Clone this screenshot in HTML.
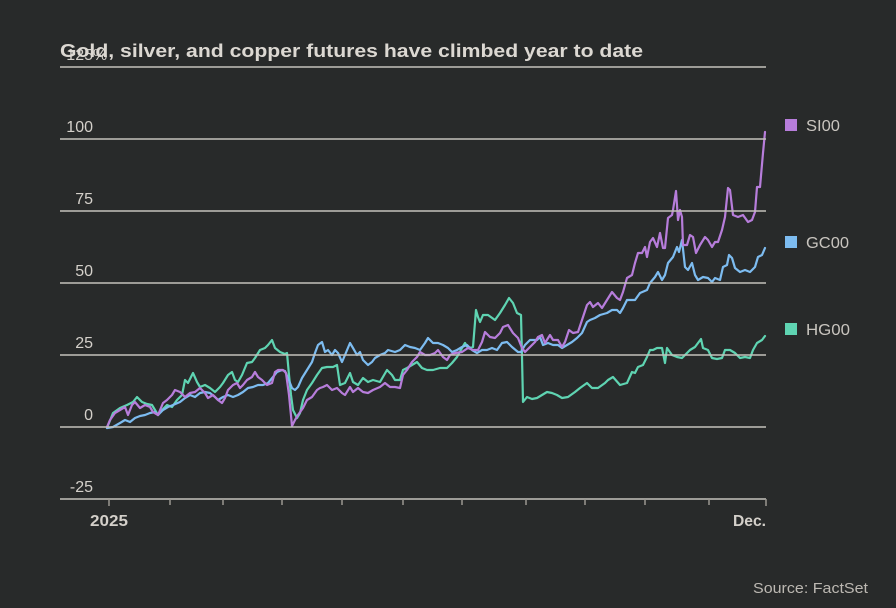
<!DOCTYPE html>
<html>
<head>
<meta charset="utf-8">
<style>
  html,body{margin:0;padding:0;background:#282a2a;}
  svg{display:block;}
  text{font-family:"Liberation Sans",sans-serif;}
</style>
</head>
<body>
<svg width="896" height="608" viewBox="0 0 896 608" xmlns="http://www.w3.org/2000/svg">
  <rect x="0" y="0" width="896" height="608" fill="#282a2a"/>

  <!-- y labels -->
  <g fill="#d4d0ca" font-size="16" text-anchor="end">
    <text x="93" y="60">125</text>
    <text x="93" y="132">100</text>
    <text x="93" y="204">75</text>
    <text x="93" y="276">50</text>
    <text x="93" y="348">25</text>
    <text x="93" y="420">0</text>
    <text x="93" y="492">-25</text>
  </g>
  <text x="93" y="60" fill="#d4d0ca" font-size="16">%</text>

  <!-- title -->
  <text x="60" y="57" fill="#dcd8d2" font-size="18" font-weight="bold" textLength="583" lengthAdjust="spacingAndGlyphs">Gold, silver, and copper futures have climbed year to date</text>

  <!-- series -->
  <g fill="none" stroke-width="2.2" stroke-linejoin="round" stroke-linecap="round">
    <polyline stroke="#5fd4b2" points="107,428 113,413 120,408 127,405 133,402 137,397 142,402 147,404 152,405 155,410 158,415 162,410 167,405 172,407 177,400 182,395 185,380 188,383 193,373 197,382 200,387 205,385 210,388 215,392 220,387 223,383 228,375 232,372 235,380 238,382 242,375 247,363 252,362 255,358 260,350 265,348 268,345 272,340 275,348 280,352 285,354 287,353 289,375 291,395 293,410 297,418 300,413 303,400 307,390 312,383 317,375 322,368 327,367 333,367 337,365 340,385 345,383 350,373 353,382 358,385 363,378 368,382 373,380 380,382 387,370 392,375 395,380 400,380 403,370 407,368 412,365 417,362 422,368 427,370 433,370 440,368 447,368 452,363 457,357 462,348 465,343 468,348 473,347 476,310 478,317 480,322 483,315 488,315 495,320 500,313 505,305 509,298 513,303 517,313 521,315 522,357 523,402 527,397 532,399 537,398 542,395 547,392 552,393 557,395 562,398 568,397 575,392 580,388 587,383 592,388 598,388 605,383 608,380 613,377 620,385 627,383 632,372 635,373 638,367 643,365 647,357 650,350 653,350 657,348 662,348 665,363 667,348 672,355 677,357 682,358 685,355 690,350 695,347 701,339 703,348 708,350 712,358 717,359 722,358 725,350 730,350 735,353 740,358 745,357 750,358 753,350 757,343 762,340 765,336"/>
    <polyline stroke="#7dbcf0" points="107,428 113,427 120,423 125,420 130,422 135,418 140,416 145,415 150,413 155,412 158,415 163,410 168,407 173,405 180,402 185,398 190,395 195,397 200,393 205,392 210,393 215,397 218,400 223,397 228,395 233,397 238,395 243,392 248,388 253,387 258,385 263,385 268,383 273,377 277,372 282,370 285,371 288,378 292,388 295,390 298,387 302,378 307,370 312,362 315,353 318,345 322,342 325,352 328,350 332,355 335,350 338,353 342,362 345,355 350,343 353,348 357,355 360,352 363,360 368,365 372,362 375,358 380,355 385,353 388,350 395,352 400,350 405,345 410,347 415,348 420,350 425,343 428,338 433,343 438,343 443,345 448,348 452,352 457,350 462,347 467,345 472,350 477,353 482,350 487,350 492,348 497,350 502,343 507,342 512,347 518,352 521,352 525,345 530,340 537,340 540,337 543,345 548,343 553,345 558,345 562,348 567,345 572,342 577,338 582,333 587,322 590,320 595,318 600,315 607,313 612,310 617,310 620,313 623,308 627,300 630,300 635,300 640,293 647,290 650,283 655,277 658,272 662,280 665,275 668,263 673,257 677,247 679,252 682,240 685,267 688,270 692,263 695,275 698,280 703,277 708,278 712,282 715,278 720,280 723,267 727,265 729,255 732,258 735,268 740,272 745,270 750,272 755,267 758,257 762,255 765,248"/>
    <polyline stroke="#b77ddb" points="107,427 110,420 115,413 120,410 125,407 128,415 132,405 135,402 140,408 145,405 150,407 153,412 158,415 163,403 167,400 172,395 175,390 180,392 185,397 190,393 195,392 200,388 205,393 208,398 213,395 218,400 222,403 225,398 228,390 233,385 237,383 240,388 243,385 247,380 252,377 255,372 258,377 262,380 267,385 272,383 275,372 278,370 283,370 286,373 289,395 292,426 295,420 298,415 303,408 307,400 312,397 317,390 320,388 323,387 327,385 332,390 337,388 342,393 345,395 350,387 353,392 358,388 363,392 368,393 373,390 380,387 385,383 390,387 395,387 400,388 403,375 407,370 412,362 417,357 420,352 425,355 430,355 435,353 438,350 443,357 447,360 450,355 455,353 462,352 468,348 473,350 478,350 482,342 485,332 490,337 495,338 500,333 503,327 508,325 513,333 518,338 522,348 525,352 530,347 535,342 538,337 542,335 545,343 550,335 553,340 558,340 562,347 565,342 569,330 573,333 578,332 583,317 587,305 590,302 593,307 598,303 602,308 607,300 612,292 617,298 620,300 623,292 627,278 632,275 635,263 638,253 642,253 645,247 647,257 650,242 653,238 657,247 660,233 663,248 665,248 668,218 672,215 673,210 676,191 678,220 680,210 682,217 683,245 687,245 690,235 693,237 696,253 700,245 705,237 708,240 712,247 715,242 718,242 722,230 725,217 728,188 730,190 733,215 738,217 743,215 748,222 752,220 755,212 757,187 760,187 763,153 765,132"/>
  </g>

  <!-- gridlines (drawn over lines) -->
  <g stroke="#c4c1bb" stroke-width="1.5">
    <line x1="60" y1="67" x2="766" y2="67"/>
    <line x1="60" y1="139" x2="766" y2="139"/>
    <line x1="60" y1="211" x2="766" y2="211"/>
    <line x1="60" y1="283" x2="766" y2="283"/>
    <line x1="60" y1="355" x2="766" y2="355"/>
    <line x1="60" y1="427" x2="766" y2="427"/>
    <line x1="60" y1="499" x2="766" y2="499"/>
  </g>
  <!-- ticks -->
  <g stroke="#9a9791" stroke-width="1.5">
    <line x1="109" y1="499" x2="109" y2="506"/>
    <line x1="170" y1="499" x2="170" y2="505"/>
    <line x1="223" y1="499" x2="223" y2="505"/>
    <line x1="282" y1="499" x2="282" y2="505"/>
    <line x1="342" y1="499" x2="342" y2="505"/>
    <line x1="403" y1="499" x2="403" y2="505"/>
    <line x1="462" y1="499" x2="462" y2="505"/>
    <line x1="526" y1="499" x2="526" y2="505"/>
    <line x1="585" y1="499" x2="585" y2="505"/>
    <line x1="645" y1="499" x2="645" y2="505"/>
    <line x1="709" y1="499" x2="709" y2="505"/>
    <line x1="766" y1="499" x2="766" y2="506"/>
  </g>

  <!-- x labels -->
  <text x="90" y="526" fill="#d4d0ca" font-size="16" font-weight="bold" textLength="38" lengthAdjust="spacingAndGlyphs">2025</text>
  <text x="733" y="526" fill="#d4d0ca" font-size="16" font-weight="bold" textLength="33" lengthAdjust="spacingAndGlyphs">Dec.</text>

  <!-- legend -->
  <rect x="785" y="119" width="12" height="12" fill="#b77ddb"/>
  <text x="806" y="131" fill="#c9c5bf" font-size="16" textLength="34" lengthAdjust="spacingAndGlyphs">SI00</text>
  <rect x="785" y="236" width="12" height="12" fill="#7dbcf0"/>
  <text x="806" y="248" fill="#c9c5bf" font-size="16" textLength="43" lengthAdjust="spacingAndGlyphs">GC00</text>
  <rect x="785" y="323" width="12" height="12" fill="#5fd4b2"/>
  <text x="806" y="335" fill="#c9c5bf" font-size="16" textLength="44" lengthAdjust="spacingAndGlyphs">HG00</text>

  <!-- source -->
  <text x="753" y="593" fill="#bcb8b2" font-size="15" textLength="115" lengthAdjust="spacingAndGlyphs">Source: FactSet</text>
</svg>
</body>
</html>
